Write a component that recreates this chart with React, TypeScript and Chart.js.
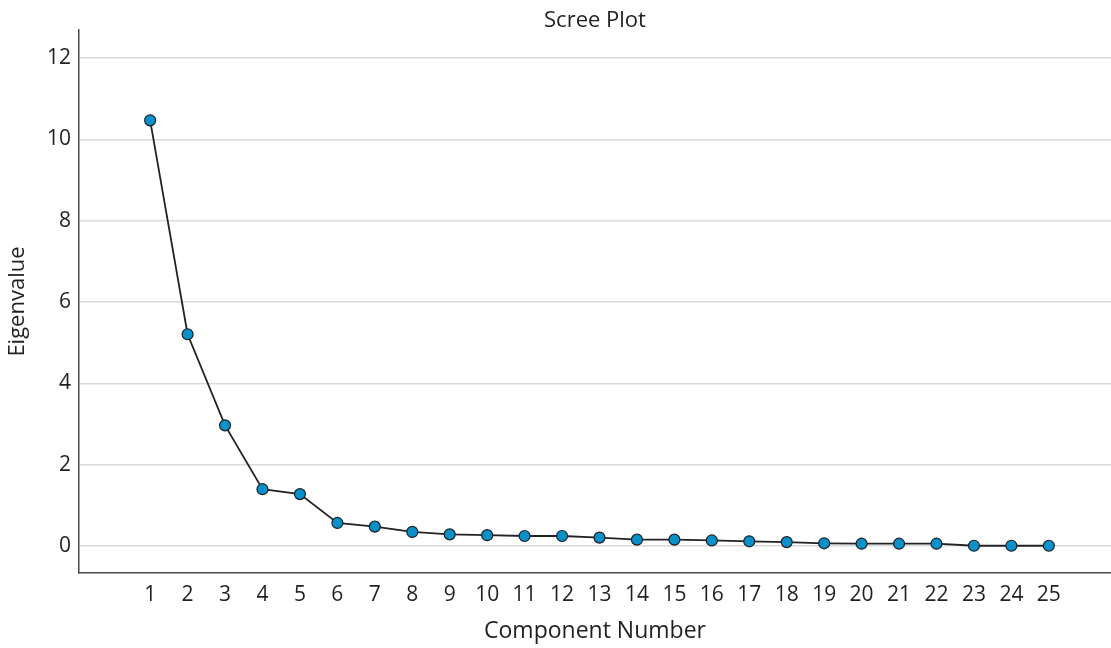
import React, { useEffect, useRef } from 'react';
import { Chart, registerables } from 'chart.js';

Chart.register(...registerables);

const components = [1, 2, 3, 4, 5, 6, 7, 8, 9, 10, 11, 12, 13, 14, 15, 16, 17, 18, 19, 20, 21, 22, 23, 24, 25];
const eigenvalues = [
    10.47, 5.21, 2.97, 1.4, 1.28, 0.57, 0.48, 0.35, 0.29, 0.27, 0.25, 0.25, 0.21,
    0.16, 0.16, 0.14, 0.12, 0.1, 0.07, 0.06, 0.06, 0.06, 0.01, 0.01, 0.01,
];
const yTicks = [0, 2, 4, 6, 8, 10, 12];

const FONT = "'Open Sans', 'Noto Sans', sans-serif";
const TEXT = '#231f20';

// centre the chart title over the plot area rather than the whole canvas
const titleOverArea = {
    id: 'titleOverArea',
    afterLayout(chart: any) {
        const tb = chart.titleBlock;
        if (tb) {
            tb.left = chart.chartArea.left;
            tb.right = chart.chartArea.right;
        }
    },
};

const App: React.FC = () => {
    const canvasRef = useRef<HTMLCanvasElement>(null);
    const chartRef = useRef<Chart | null>(null);

    useEffect(() => {
        document.body.style.margin = '0';
        if (!canvasRef.current) return;
        if (chartRef.current) chartRef.current.destroy();

        chartRef.current = new Chart(canvasRef.current, {
            type: 'line',
            data: {
                datasets: [{
                    label: 'Eigenvalue',
                    data: components.map((c, i) => ({ x: c, y: eigenvalues[i] })),
                    borderColor: '#222222',
                    borderWidth: 1.8,
                    pointRadius: 5.5,
                    pointBackgroundColor: '#0790c9',
                    pointBorderColor: '#1f1f1f',
                    pointBorderWidth: 1.2,
                    tension: 0,
                }],
            },
            options: {
                responsive: true,
                maintainAspectRatio: false,
                animation: false,
                layout: { padding: 0, autoPadding: false },
                plugins: {
                    legend: { display: false },
                    tooltip: { enabled: false },
                    title: {
                        display: true,
                        text: 'Scree Plot',
                        color: TEXT,
                        font: { family: FONT, size: 22, weight: 'normal', lineHeight: 0.82 },
                        padding: { top: 12, bottom: 0 },
                    },
                },
                scales: {
                    x: {
                        type: 'linear',
                        min: -0.9,
                        max: 26.66,
                        afterBuildTicks: (scale) => {
                            scale.ticks = components.map(v => ({ value: v }));
                        },
                        afterFit: (scale: any) => {
                            scale.height = 75;
                            scale.paddingLeft = 0;
                            scale.paddingRight = 0;
                        },
                        grid: { drawOnChartArea: false, drawTicks: false },
                        border: { display: true, color: '#4a4a4a', width: 1.5 },
                        ticks: {
                            color: TEXT,
                            font: { family: FONT, size: 21 },
                            padding: 9,
                            maxRotation: 0,
                            autoSkip: false,
                        },
                        title: {
                            display: true,
                            text: 'Component Number',
                            color: TEXT,
                            font: { family: FONT, size: 23 },
                            padding: { top: 4, bottom: 3 },
                        },
                    },
                    y: {
                        type: 'linear',
                        min: -0.66,
                        max: 12.69,
                        afterBuildTicks: (scale) => {
                            scale.ticks = yTicks.map(v => ({ value: v }));
                        },
                        afterFit: (scale) => { scale.width = 79; },
                        grid: { color: '#d9d9d9', lineWidth: 1.5, drawTicks: false },
                        border: { display: true, color: '#4a4a4a', width: 1.5 },
                        ticks: {
                            color: TEXT,
                            font: { family: FONT, size: 21 },
                            padding: 8,
                        },
                        title: {
                            display: true,
                            text: 'Eigenvalue',
                            color: TEXT,
                            font: { family: FONT, size: 22 },
                            padding: { top: 5, bottom: 4 },
                        },
                    },
                },
            },
            plugins: [titleOverArea],
        });

        return () => {
            chartRef.current?.destroy();
            chartRef.current = null;
        };
    }, []);

    return (
        <div style={{ width: 1111, height: 648, position: 'relative' }}>
            <canvas ref={canvasRef}></canvas>
        </div>
    );
};

export default App;
